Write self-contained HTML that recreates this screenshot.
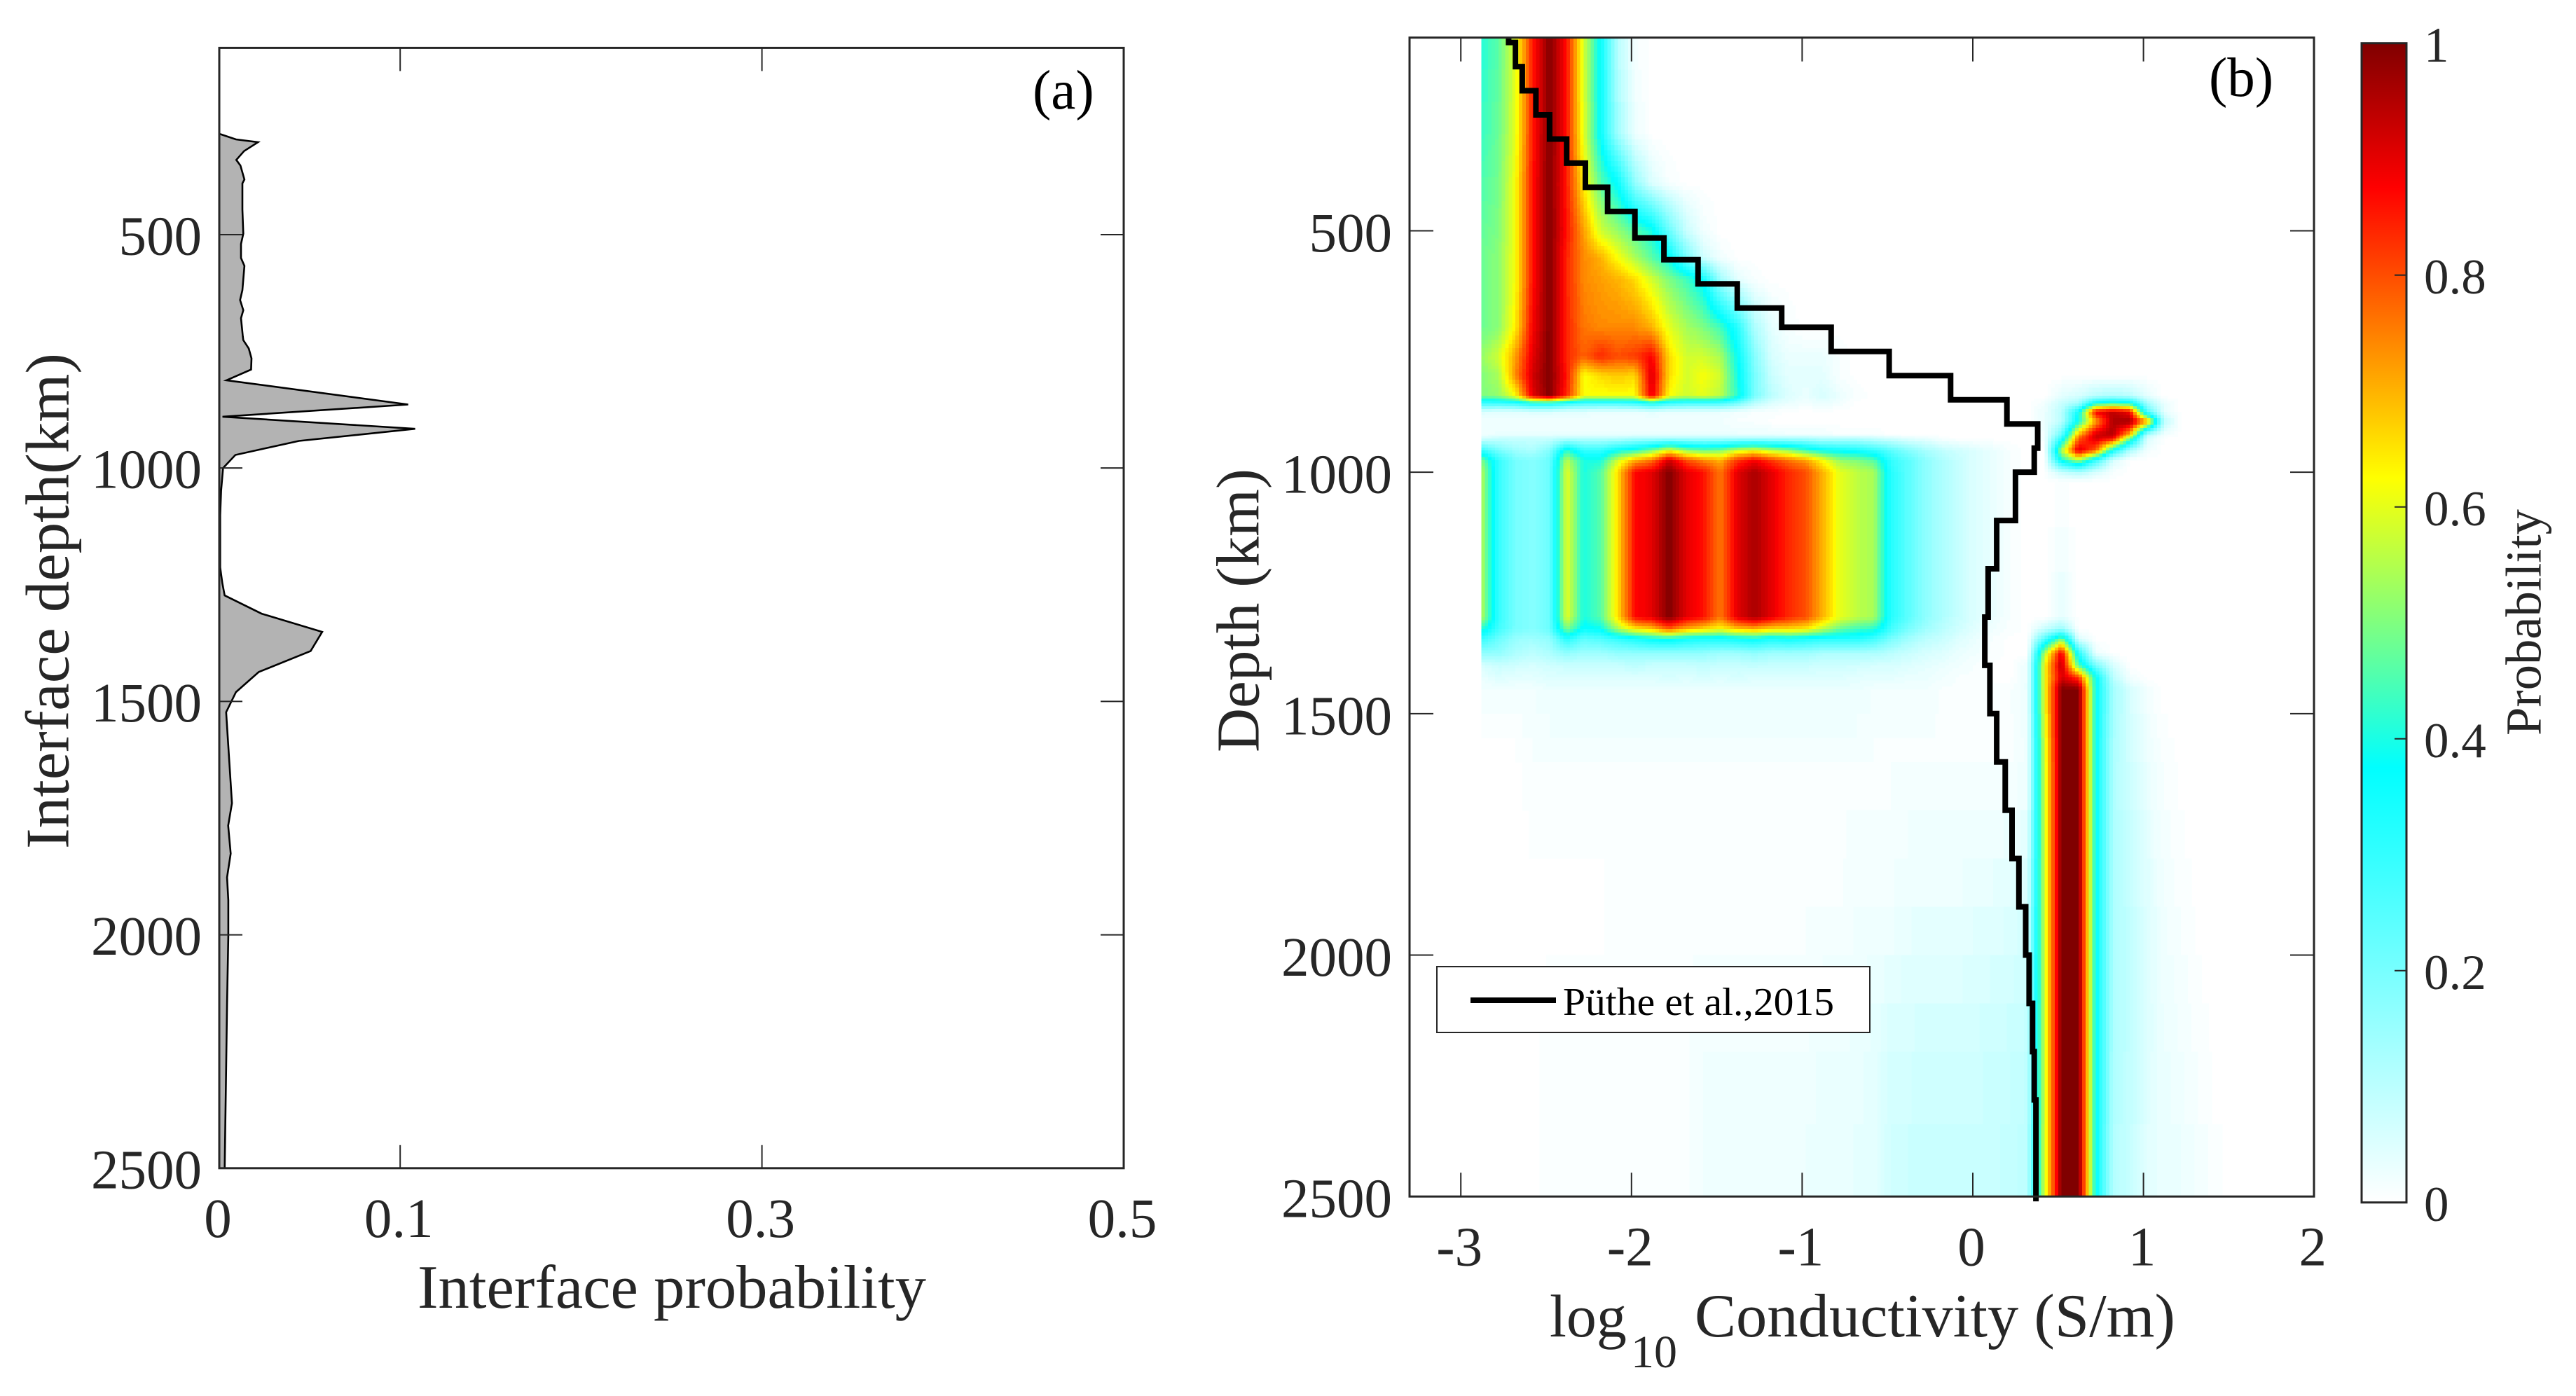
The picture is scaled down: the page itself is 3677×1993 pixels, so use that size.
<!DOCTYPE html>
<html lang="en">
<head>
<meta charset="utf-8">
<title>Interface probability and conductivity probability</title>
<style>
html,body{margin:0;padding:0;background:#fff;}
svg{display:block;}
text{font-family:"Liberation Serif",serif;fill:#262626;}
</style>
</head>
<body>
<svg id="figure" xmlns="http://www.w3.org/2000/svg" width="3677" height="1993" viewBox="0 0 3677 1993">
  <defs>
    <linearGradient id="cbGrad" x1="0" y1="1" x2="0" y2="0">
      <stop offset="0" stop-color="#ffffff"/>
      <stop offset="0.375" stop-color="#00ffff"/>
      <stop offset="0.625" stop-color="#ffff00"/>
      <stop offset="0.875" stop-color="#ff0000"/>
      <stop offset="1" stop-color="#800000"/>
    </linearGradient>
    <clipPath id="clipA"><rect x="313" y="68" width="1291" height="1600"/></clipPath>
  </defs>
  <rect x="0" y="0" width="3677" height="1993" fill="#ffffff"/>
  <g id="panelA"></g>
  <g id="panelB"></g>
  <g id="colorbar"></g>
</svg>
<script>
// ---- Panel (a): interface probability vs depth ----
const interfaceDepthKm = [284,296,302,321,340,352,382,390,446,498,520,550,567,619,640,662,679,718,726,744,765,789,812,864,890,916,942,972,1000,1049,1101,1213,1247,1273,1312,1351,1392,1437,1480,1523,1718,1766,1826,1877,1926,2003,2148,2286,2500];
const interfaceProbability = [0,0.0092,0.0214,0.0137,0.0094,0.0117,0.0139,0.0128,0.0128,0.0133,0.012,0.012,0.0139,0.0128,0.0115,0.0133,0.012,0.013,0.0133,0.0163,0.0178,0.0176,0.004,0.1044,0.0018,0.1083,0.044,0.0089,0.0021,0.001,0.0005,0.0005,0.0017,0.003,0.0234,0.0569,0.0505,0.0218,0.0092,0.0038,0.007,0.0049,0.0063,0.0043,0.005,0.005,0.0043,0.0038,0.003];
const panelAXTicks = [0,0.1,0.3,0.5];
const panelAXLabels = ["0","0.1","0.3","0.5"];
const panelAYTicks = [500,1000,1500,2000,2500];

// ---- Panel (b): conductivity probability heatmap ----
const conductivityNodes = [-2.88,-2.78,-2.68,-2.58,-2.48,-2.38,-2.28,-2.18,-2.08,-1.98,-1.88,-1.78,-1.68,-1.58,-1.48,-1.38,-1.28,-1.18,-1.08,-0.98,-0.88,-0.78,-0.68,-0.58,-0.48,-0.38,-0.28,-0.18,-0.08,0.02,0.12,0.22,0.32,0.42,0.52,0.62,0.72,0.82,0.92,1.02,1.12,1.22,1.32,1.42,1.52,1.62];
const depthNodes = [100,300,400,500,555,600,700,760,800,842,858,875,895,922,930,955,975,1000,1020,1300,1325,1345,1375,1400,1425,1450,1600,1900,2200,2500];
// Probability (percent) per depth node; columns follow conductivityNodes, missing trailing values are 0.
const probD0100 = [41,46,60,85,100,86,58,36,10,1];
const probD0300 = [43,48,60,85,100,86,60,36,14,3];
const probD0400 = [45,49,62,86,100,85,64,46,36,16, 5,1];
const probD0500 = [47,50,62,86,100,86,72,58,52,46, 40,22,8,2];
const probD0555 = [48,51,62,86,100,84,74,70,62,54, 46,38,20,7,2];
const probD0600 = [48,51,62,86,100,84,74,72,70,66, 58,50,44,36,14,4,1];
const probD0700 = [48,51,64,88,100,84,76,74,74,74, 70,60,54,50,44,32,12,4,1];
const probD0760 = [52,58,72,90,100,84,78,84,80,82, 88,66,58,58,54,38,18,6,3,3, 3,1];
const probD0800 = [50,54,74,92,100,86,62,66,68,66, 92,66,58,62,58,40,20,8,4,4, 4,1];
const probD0842 = [50,52,62,90,100,84,62,62,62,62, 90,62,58,60,56,42,20,10,5,3, 6,3,1,0,0,0,0,0,0,0, 0,0,0,0,4,6,10,12,10,4];
const probD0858 = [28,28,30,36,36,30,26,26,26,28, 34,28,26,26,26,20,10,5,3,2, 3,2,0,0,0,0,0,0,0,0, 0,0,0,2,8,14,40,45,42,14, 3];
const probD0875 = [5,4,4,5,5,4,4,3,3,3, 4,3,3,3,3,2,1,1,0,0, 0,0,0,0,0,0,0,0,0,0, 0,0,0,3,10,36,88,94,88,26, 4];
const probD0895 = [2,2,2,2,2,2,2,2,2,2, 2,2,2,2,2,1,1,0,0,0, 0,0,0,0,0,0,0,0,0,0, 0,0,0,3,10,40,72,96,97,72, 10];
const probD0922 = [2,3,3,3,3,3,3,3,3,3, 3,3,3,3,3,3,3,3,2,2, 2,1,1,1,0,0,0,0,0,0, 0,0,0,2,22,70,92,95,70,12, 2];
const probD0930 = [6,8,8,8,8,10,10,10,10,12, 12,12,12,12,12,12,12,12,12,12, 10,10,10,8,6,4,3,1,0,0, 0,0,0,2,30,78,92,88,50,6];
const probD0955 = [30,20,14,12,18,42,30,30,38,42, 50,62,52,48,50,58,62,56,52,44, 38,36,34,30,24,18,13,9,7,5, 3,1,0,0,55,92,78,36,12,2];
const probD0975 = [50,30,20,18,22,56,40,40,58,70, 76,92,80,74,70,82,88,82,76,72, 62,52,50,46,30,24,17,12,8,5, 3,1,0,0,40,55,30,6];
const probD1000 = [55,30,20,18,22,60,40,46,66,87, 90,100,90,86,76,90,96,90,84,80, 70,60,56,54,32,24,17,12,8,5, 3,1,0,0,8,12,6,1];
const probD1020 = [55,30,20,18,22,60,40,46,66,87, 90,100,90,86,76,90,96,90,84,80, 70,60,56,54,32,24,17,12,8,5, 3,1];
const probD1300 = [55,30,20,18,22,60,40,46,66,87, 90,100,90,86,76,90,96,90,84,80, 70,60,56,54,32,24,17,12,8,5, 3,1,0,0,4];
const probD1325 = [42,28,20,18,22,50,36,38,54,64, 68,78,70,66,62,68,70,66,66,64, 56,48,44,42,28,20,14,10,7,4, 2,1,0,8,15];
const probD1345 = [30,22,15,14,16,32,24,26,30,34, 38,40,36,34,34,36,38,34,36,34, 32,32,32,28,20,14,10,8,5,3, 1,0,0,25,50,5];
const probD1375 = [16,16,12,10,12,16,14,14,16,16, 16,16,16,16,14,14,16,14,14,14, 12,12,12,12,10,8,6,5,3,2, 1,0,0,55,90,32,3];
const probD1400 = [6,8,7,6,7,8,8,8,8,10, 8,8,8,9,8,8,9,8,8,8, 7,7,7,6,6,5,4,3,2,1, 0,0,3,62,95,45,20,6];
const probD1425 = [3,5,4,4,5,5,5,5,5,5, 5,6,5,6,5,6,5,5,5,5, 5,5,4,4,4,3,3,2,1,1, 0,0,3,62,92,82,38,10,2];
const probD1450 = [2,2,2,2,3,3,3,3,3,3, 3,3,3,3,3,3,3,3,3,3, 3,3,3,2,2,2,2,1,1,1, 1,1,3,62,100,100,38,14,6,2];
const probD1600 = [0,0,0,1,1,1,1,1,1,1, 1,1,1,1,1,1,1,1,1,1, 1,1,1,1,1,1,1,1,1,1, 1,1,2,58,100,100,38,12,7,3, 1];
const probD1900 = [0,0,0,0,0,0,0,0,1,1, 1,1,1,1,1,1,1,1,1,1, 1,1,2,2,2,3,3,3,3,4, 4,5,6,58,100,100,38,12,9,5, 2,1];
const probD2200 = [0,0,0,0,1,1,1,1,1,1, 1,1,1,2,2,2,2,2,2,2, 3,3,3,4,6,6,7,7,7,7, 8,8,9,58,100,100,38,12,9,5, 3,2,1];
const probD2500 = [0,0,0,0,1,1,1,1,1,1, 1,1,1,2,2,2,2,2,3,3, 3,3,4,4,7,8,8,8,8,8, 8,9,10,58,100,100,38,11,8,4, 3,3,2,1];
const probabilityRows = [probD0100,probD0300,probD0400,probD0500,probD0555,probD0600,probD0700,probD0760,probD0800,probD0842,probD0858,probD0875,probD0895,probD0922,probD0930,probD0955,probD0975,probD1000,probD1020,probD1300,probD1325,probD1345,probD1375,probD1400,probD1425,probD1450,probD1600,probD1900,probD2200,probD2500];

// Puthe et al., 2015 staircase profile: conductivity in each layer, and the depth at which each layer ends.
const putheLayerBottomKm = [110,160,210,260,310,360,410,460,515,560,610,660,700,750,800,850,900,950,1000,1100,1200,1300,1400,1500,1600,1700,1800,1900,2000,2100,2200,2300,2510];
const putheLogConductivity = [-2.72,-2.68,-2.64,-2.56,-2.48,-2.38,-2.27,-2.14,-1.98,-1.81,-1.61,-1.38,-1.12,-0.83,-0.49,-0.13,0.20,0.38,0.36,0.25,0.14,0.09,0.07,0.10,0.14,0.19,0.23,0.27,0.31,0.33,0.35,0.36,0.37];
const panelBXTicks = [-3,-2,-1,0,1,2];
const panelBYTicks = [500,1000,1500,2000,2500];
const colorbarTicks = [0,0.2,0.4,0.6,0.8,1];
const colorbarLabels = ["0","0.2","0.4","0.6","0.8","1"];

const SVGNS = "http://www.w3.org/2000/svg";
function mk(parent, tag, attrs, txt){
  const el = document.createElementNS(SVGNS, tag);
  for (const k in attrs) el.setAttribute(k, attrs[k]);
  if (txt !== undefined) el.textContent = txt;
  parent.appendChild(el);
  return el;
}
const AXIS = "#262626";
const panelA = document.getElementById("panelA");
const panelB = document.getElementById("panelB");
const cbar = document.getElementById("colorbar");

// Axis functions
const axLeftA = 313, axRightA = 1604, axTopA = 68.4, axBottomA = 1667.8;
function xA(v){ return axLeftA + (v / 0.5) * (axRightA - axLeftA); }
function yA(d){ return axTopA + ((d - 100) / 2400) * (axBottomA - axTopA); }
const axLeftB = 2012, axRightB = 3303, axTopB = 53.7, axBottomB = 1708.2;
function xB(v){ return 2816 + v * 243.6; }
function yB(d){ return axTopB + ((d - 100) / 2400) * (axBottomB - axTopB); }
const cbLeft = 3371, cbRight = 3435, cbTop = 61.7, cbBottom = 1716.7;
function yC(v){ return cbBottom - v * (cbBottom - cbTop); }

// Colormap: white -> cyan -> yellow -> red -> dark red
function cmap(v){
  const s = [[0,255,255,255],[0.375,0,255,255],[0.625,255,255,0],[0.875,255,0,0],[1,128,0,0]];
  v = Math.max(0, Math.min(1, v));
  for (let i = 1; i < s.length; i++){
    if (v <= s[i][0]){
      const t = (v - s[i-1][0]) / (s[i][0] - s[i-1][0]);
      const c = [1,2,3].map(j => Math.round(s[i-1][j] + t * (s[i][j] - s[i-1][j])));
      return "rgb(" + c.join(",") + ")";
    }
  }
  return "rgb(128,0,0)";
}

// ---------- Panel A ----------
let areaPts = [[xA(0), yA(interfaceDepthKm[0])]];
for (let i = 0; i < interfaceDepthKm.length; i++) areaPts.push([xA(interfaceProbability[i]), yA(interfaceDepthKm[i])]);
areaPts.push([xA(0), yA(interfaceDepthKm[interfaceDepthKm.length - 1])]);
const area = mk(panelA, "polygon", {points: areaPts.map(p => p[0].toFixed(1) + "," + p[1].toFixed(1)).join(" "), fill:"#b3b3b3", stroke:"#000000", "stroke-width":"2.6", "stroke-linejoin":"miter", "clip-path":"url(#clipA)"});



const boxA = mk(panelA, "rect", {x:axLeftA, y:axTopA, width:axRightA-axLeftA, height:axBottomA-axTopA, fill:"none", stroke:AXIS, "stroke-width":"3"});



panelAXTicks.forEach((t, i) => {
  const x = xA(t);
  const a = mk(panelA, "line", {x1:x, x2:x, y1:axBottomA, y2:axBottomA-33, stroke:AXIS, "stroke-width":"2"});
  
  
  const b = mk(panelA, "line", {x1:x, x2:x, y1:axTopA, y2:axTopA+33, stroke:AXIS, "stroke-width":"2"});
  
  
  const l = mk(panelA, "text", {x:x-2, y:1766, "font-size":"79", "text-anchor":"middle"}, panelAXLabels[i]);
  
  
});
panelAYTicks.forEach(t => {
  const y = yA(t);
  const a = mk(panelA, "line", {x1:axLeftA, x2:axLeftA+33, y1:y, y2:y, stroke:AXIS, "stroke-width":"2"});
  
  
  const b = mk(panelA, "line", {x1:axRightA, x2:axRightA-33, y1:y, y2:y, stroke:AXIS, "stroke-width":"2"});
  
  
  const l = mk(panelA, "text", {x:288, y:y+28.5, "font-size":"79", "text-anchor":"end"}, String(t));
  
  
});
const xTitleA = mk(panelA, "text", {x:596, y:1867, "font-size":"88", textLength:"726", lengthAdjust:"spacingAndGlyphs"}, "Interface probability");


const yTitleA = mk(panelA, "text", {x:97.7, y:1212, "font-size":"88", textLength:"708", lengthAdjust:"spacingAndGlyphs", transform:"rotate(-90 97.7 1212)"}, "Interface depth(km)");


const tagA = mk(panelA, "text", {x:1474, y:155, "font-size":"79", style:"fill:#000"}, "(a)");



// ---------- Panel B heatmap ----------
const heatGroup = mk(panelB, "g", {"shape-rendering":"crispEdges"});


const SUBX = 5, LEVELS = 127;
for (let r = 0; r < depthNodes.length - 1; r++){
  const a = probabilityRows[r], b = probabilityRows[r + 1];
  const yTop = yB(depthNodes[r]), yBot = yB(depthNodes[r + 1]);
  let maxDiff = 0;
  for (let k = 0; k < conductivityNodes.length; k++) maxDiff = Math.max(maxDiff, Math.abs((a[k] || 0) - (b[k] || 0)));
  const nSub = Math.max(1, Math.min(Math.ceil((yBot - yTop) / 5), 1 + Math.ceil(maxDiff / 3)));
  const h = (yBot - yTop) / nSub;
  for (let j = 0; j < nSub; j++){
    const t = (j + 0.5) / nSub;
    const y = yTop + j * h;
    let runStart = null, runLevel = -1;
    const flush = endX => {
      if (runStart !== null && runLevel > 0){
        const cell = mk(heatGroup, "rect", {x:runStart.toFixed(1), y:y.toFixed(1), width:(endX - runStart + 0.6).toFixed(1), height:(h + 0.6).toFixed(1), fill:cmap(runLevel / LEVELS)});
        
        
      }
    };
    for (let k = 0; k < conductivityNodes.length - 1; k++){
      const x0 = xB(conductivityNodes[k]), x1 = xB(conductivityNodes[k + 1]);
      const v0 = (a[k] || 0) * (1 - t) + (b[k] || 0) * t;
      const v1 = (a[k + 1] || 0) * (1 - t) + (b[k + 1] || 0) * t;
      for (let m = 0; m < SUBX; m++){
        const u = (m + 0.5) / SUBX;
        const level = Math.round(((v0 + (v1 - v0) * u) / 100) * LEVELS);
        const sx = x0 + (x1 - x0) * m / SUBX;
        if (level !== runLevel){
          flush(sx);
          runStart = sx;
          runLevel = level;
        }
      }
    }
    flush(xB(conductivityNodes[conductivityNodes.length - 1]));
  }
}

// Puthe staircase line
let d = "";
let prevDepth = 100;
for (let i = 0; i < putheLogConductivity.length; i++){
  const x = xB(putheLogConductivity[i]).toFixed(1);
  d += (i === 0 ? "M" : "L") + x + " " + yB(prevDepth).toFixed(1);
  d += "L" + x + " " + yB(putheLayerBottomKm[i]).toFixed(1);
  prevDepth = putheLayerBottomKm[i];
}
const putheLine = mk(panelB, "path", {d:d, fill:"none", stroke:"#000000", "stroke-width":"8", "stroke-linejoin":"miter"});



const boxB = mk(panelB, "rect", {x:axLeftB, y:axTopB, width:axRightB-axLeftB, height:axBottomB-axTopB, fill:"none", stroke:AXIS, "stroke-width":"3"});



panelBXTicks.forEach(t => {
  const x = xB(t);
  if (t < 2){
    const a = mk(panelB, "line", {x1:x, x2:x, y1:axBottomB, y2:axBottomB-34, stroke:AXIS, "stroke-width":"2"});
    
    
    const b = mk(panelB, "line", {x1:x, x2:x, y1:axTopB, y2:axTopB+34, stroke:AXIS, "stroke-width":"2"});
    
    
  }
  const l = mk(panelB, "text", {x:x-2, y:1806.7, "font-size":"79", "text-anchor":"middle"}, String(t));
  
  
});
panelBYTicks.forEach(t => {
  const y = yB(t);
  const a = mk(panelB, "line", {x1:axLeftB, x2:axLeftB+34, y1:y, y2:y, stroke:AXIS, "stroke-width":"2"});
  
  
  const b = mk(panelB, "line", {x1:axRightB, x2:axRightB-34, y1:y, y2:y, stroke:AXIS, "stroke-width":"2"});
  
  
  const l = mk(panelB, "text", {x:1987, y:y+29.5, "font-size":"79", "text-anchor":"end"}, String(t));
  
  
});

// x title with subscript
const xTitleB = mk(panelB, "text", {"font-size":"88"});


mk(xTitleB, "tspan", {x:2212, y:1908, "font-size":"86"}, "log");
mk(xTitleB, "tspan", {x:2328, y:1952, "font-size":"66"}, "10");
mk(xTitleB, "tspan", {x:2419, y:1908, textLength:"686", lengthAdjust:"spacingAndGlyphs"}, "Conductivity (S/m)");

const yTitleB = mk(panelB, "text", {x:1796.7, y:1074, "font-size":"87", textLength:"405", lengthAdjust:"spacingAndGlyphs", transform:"rotate(-90 1796.7 1074)"}, "Depth (km)");


const tagB = mk(panelB, "text", {x:3153, y:137, "font-size":"79", style:"fill:#000"}, "(b)");



// Legend
const legend = mk(panelB, "g", {});


const legBox = mk(legend, "rect", {x:2051, y:1380, width:618, height:94, fill:"#ffffff", stroke:AXIS, "stroke-width":"2"});


const legLine = mk(legend, "line", {x1:2099, x2:2221, y1:1428, y2:1428, stroke:"#000000", "stroke-width":"8"});


const legText = mk(legend, "text", {x:2231, y:1449, "font-size":"56", textLength:"387", lengthAdjust:"spacingAndGlyphs", style:"fill:#000"}, "Püthe et al.,2015");



// ---------- Colorbar ----------
const cbRamp = mk(cbar, "rect", {x:cbLeft, y:cbTop, width:cbRight-cbLeft, height:cbBottom-cbTop, fill:"url(#cbGrad)", stroke:AXIS, "stroke-width":"3"});


colorbarTicks.forEach((t, i) => {
  const y = yC(t);
  if (t > 0 && t < 1){
    const a = mk(cbar, "line", {x1:cbRight, x2:cbRight-17, y1:y, y2:y, stroke:AXIS, "stroke-width":"2"});
    
    
  }
  const l = mk(cbar, "text", {x:3460, y:y+26.5, "font-size":"71"}, colorbarLabels[i]);
  
  
});
const cbTitle = mk(cbar, "text", {x:3626.7, y:1050, "font-size":"72", textLength:"323", lengthAdjust:"spacingAndGlyphs", transform:"rotate(-90 3626.7 1050)"}, "Probability");


</script>
</body>
</html>
